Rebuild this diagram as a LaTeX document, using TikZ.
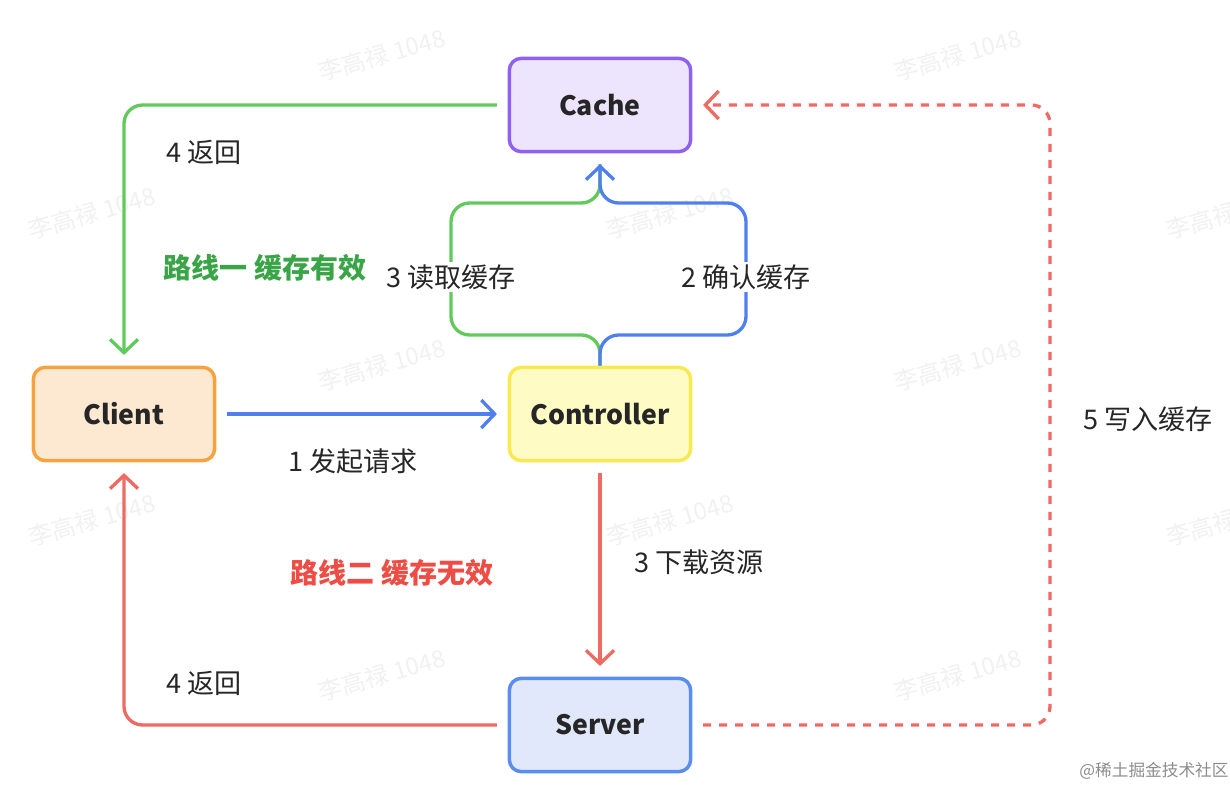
\documentclass[tikz,border=0pt]{standalone}
\usepackage{fontspec}
\setmainfont{Noto Sans CJK SC}
\usetikzlibrary{arrows.meta}
\definecolor{cgreen}{HTML}{62C95C}
\definecolor{cblue}{HTML}{5080F0}
\definecolor{cred}{HTML}{EE6A63}
\definecolor{tgreen}{HTML}{3AA547}
\definecolor{tred}{HTML}{EE4D45}
\definecolor{wm}{HTML}{F1F1F1}
\tikzset{
  box/.style={draw, line width=2.6pt, rounded corners=9pt, minimum width=136pt, minimum height=70pt, font=\fontsize{20}{24}\selectfont\bfseries, text=black!85},
  conn/.style={line width=2.5pt, rounded corners=14pt, -{Straight Barb[length=10pt,width=21pt,line width=2.5pt]}},
  plain/.style={line width=2.5pt, rounded corners=14pt},
  lbl/.style={font=\fontsize{20.3}{24}\selectfont, text=black!85, fill=white, inner sep=2pt},
  route/.style={font=\fontsize{21}{25}\selectfont\bfseries},
  wmark/.style={font=\fontsize{18}{22}\selectfont, text=wm, rotate=16},
}
\begin{document}
\begin{tikzpicture}[x=0.75pt,y=-0.75pt]
\useasboundingbox (0,0) rectangle (1230,788);
% watermarks
\begin{scope}
\clip (0,0) rectangle (1230,788);
\foreach \px/\py in {382/55, 958/55, 92/213, 670/213, 1230/213, 382/365, 958/365, 92/520, 670/520, 1230/520, 382/675, 958/675}
  \node[wmark] at (\px,\py) {李高禄 1048};
\end{scope}
% nodes
\node[box, fill={rgb,255:red,237;green,229;blue,253}, draw={rgb,255:red,144;green,97;blue,240}] (cache) at (600,105) {Cache};
\node[box, fill={rgb,255:red,253;green,232;blue,210}, draw={rgb,255:red,246;green,163;blue,63}] (client) at (124,414) {Client};
\node[box, fill={rgb,255:red,254;green,251;blue,196}, draw={rgb,255:red,250;green,232;blue,80}] (ctrl) at (600,414) {Controller};
\node[box, fill={rgb,255:red,225;green,232;blue,252}, draw={rgb,255:red,91;green,141;blue,239}] (server) at (600,725) {Server};
% route 1 return
\coordinate (c1) at (124,105);
\draw[conn, cgreen, shorten <=8pt, shorten >=8pt] (cache.west) -- (c1) -- (client.north);
% request
\draw[conn, cblue, shorten <=8pt, shorten >=8pt] (client.east) -- (ctrl.west);
% read cache (green) and confirm cache (blue)
\coordinate (jb) at (600,335);
\coordinate (jt) at (600,203);
\draw[plain, cgreen] (ctrl.north) -- (jb) -- (451,335) -- (451,203) -- (jt) -- ([yshift=-8pt]cache.south);
\draw[conn, cblue, shorten >=8pt] (ctrl.north) -- (jb) -- (746,335) -- (746,203) -- (jt) -- (cache.south);
% download
\draw[conn, cred, shorten <=8pt, shorten >=8pt] (ctrl.south) -- (server.north);
% route 2 return
\coordinate (c2) at (124,725);
\draw[conn, cred, shorten <=8pt, shorten >=8pt] (server.west) -- (c2) -- (client.south);
% write cache
\coordinate (d1) at (1050,725);
\coordinate (d2) at (1050,105);
\draw[conn, cred, dash pattern=on 6pt off 6pt, shorten <=8pt, shorten >=8pt] (server.east) -- (d1) -- (d2) -- (cache.east);
% labels
\node[lbl] (l4a) at (204,152) {4 返回};
\node[route, text=tgreen] (r1) at (265,268) {路线一 缓存有效};
\node[lbl] (l3r) at (451,277) {3 读取缓存};
\node[lbl] (l2c) at (746,277) {2 确认缓存};
\node[lbl] (l1) at (353,461) {1 发起请求};
\node[lbl] (l3d) at (699,562) {3 下载资源};
\node[route, text=tred] (r2) at (392,573) {路线二 缓存无效};
\node[lbl] (l4b) at (204,683) {4 返回};
\node[lbl] (l5) at (1148,419) {5 写入缓存};
\node[font=\fontsize{12.5}{15}\selectfont, text=black!45] (jj) at (1154,771) {@稀土掘金技术社区};
\end{tikzpicture}
\end{document}
